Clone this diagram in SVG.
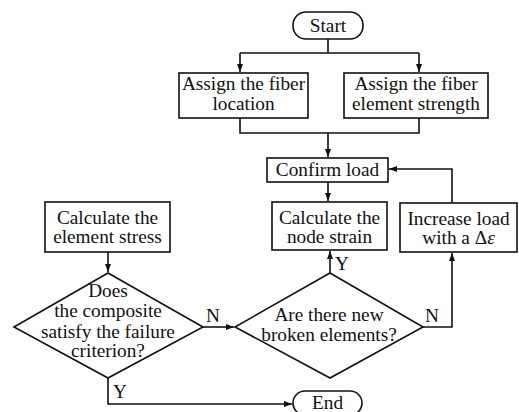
<svg xmlns="http://www.w3.org/2000/svg" width="519" height="412" viewBox="0 0 519 412">
<defs>
<marker id="arr" viewBox="0 0 8 6" refX="8" refY="3" markerWidth="8" markerHeight="6" markerUnits="userSpaceOnUse" orient="auto">
<path d="M0,0 L8,3 L0,6 Z" fill="#111"/>
</marker>
<style>
.box{fill:#fff;stroke:#111;stroke-width:1.6}
.ln{fill:none;stroke:#111;stroke-width:1.6}
text{font-family:"Liberation Serif","Times New Roman",serif;font-size:19.3px;fill:#111;text-anchor:middle}
.lbl{text-anchor:start}
</style>
</defs>
<rect width="519" height="412" fill="#fff"/>
<g id="connectors">
<path class="ln" d="M328,39 V53 M240,53 H419"/>
<path class="ln" d="M240,53 V72" marker-end="url(#arr)"/>
<path class="ln" d="M419,53 V72" marker-end="url(#arr)"/>
<path class="ln" d="M240,118 V133 H419 V118"/>
<path class="ln" d="M328,133 V157" marker-end="url(#arr)"/>
<path class="ln" d="M328,182 V201" marker-end="url(#arr)"/>
<path class="ln" d="M452,203 V169 H389" marker-end="url(#arr)"/>
<path class="ln" d="M108,252 V272" marker-end="url(#arr)"/>
<path class="ln" d="M203,327 H234" marker-end="url(#arr)"/>
<path class="ln" d="M330,273 V251" marker-end="url(#arr)"/>
<path class="ln" d="M423,327 H452 V253" marker-end="url(#arr)"/>
<path class="ln" d="M108,378 V404 H292" marker-end="url(#arr)"/>
<text class="lbl" x="206" y="322">N</text>
<text class="lbl" x="425" y="322">N</text>
<text class="lbl" x="335" y="270">Y</text>
<text class="lbl" x="113" y="398">Y</text>
</g>
<g id="start">
<rect class="box" x="293" y="12" width="70" height="27" rx="13" ry="13"/>
<text x="328" y="32">Start</text>
</g>
<g id="assign-location">
<rect class="box" x="179" y="73" width="129" height="45"/>
<text x="243.5" y="90">Assign the fiber</text>
<text x="243.5" y="110">location</text>
</g>
<g id="assign-strength">
<rect class="box" x="344" y="73" width="144" height="45"/>
<text x="416" y="90">Assign the fiber</text>
<text x="416" y="110">element strength</text>
</g>
<g id="confirm-load">
<rect class="box" x="267" y="158" width="121" height="24"/>
<text x="327.5" y="176">Confirm load</text>
</g>
<g id="node-strain">
<rect class="box" x="272" y="202" width="115" height="48"/>
<text x="329.5" y="224">Calculate the</text>
<text x="329.5" y="243">node strain</text>
</g>
<g id="increase-load">
<rect class="box" x="400" y="203" width="117" height="49"/>
<text x="458.5" y="225">Increase load</text>
<text x="458.5" y="244">with a Δ<tspan font-style="italic">ε</tspan></text>
</g>
<g id="element-stress">
<rect class="box" x="45" y="202" width="125" height="50"/>
<text x="107.5" y="224">Calculate the</text>
<text x="107.5" y="243">element stress</text>
</g>
<g id="failure-check">
<polygon class="box" points="108,273 203,327 108,378 14,327"/>
<text x="108" y="297">Does</text>
<text x="108" y="317">the composite</text>
<text x="108" y="338">satisfy the failure</text>
<text x="108" y="357">criterion?</text>
</g>
<g id="broken-check">
<polygon class="box" points="330,273 423,327 330,378 235,327"/>
<text x="329" y="321">Are there new</text>
<text x="329" y="341">broken elements?</text>
</g>
<g id="end">
<rect class="box" x="293" y="391" width="69" height="24" rx="12" ry="12"/>
<text x="327.5" y="409">End</text>
</g>
</svg>
